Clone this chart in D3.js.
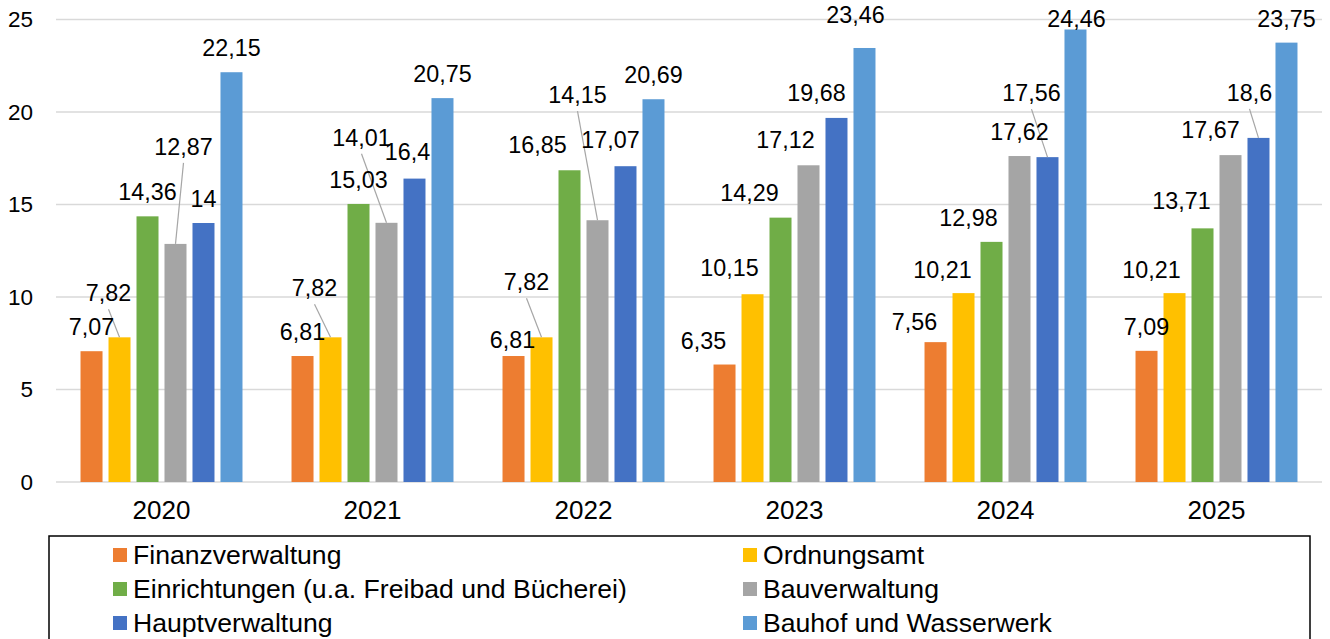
<!DOCTYPE html>
<html>
<head>
<meta charset="utf-8">
<script src="https://cdn.jsdelivr.net/npm/d3@7"></script>
<style>
    body { margin: 0; background: #fff; }
    text { font-family: "Liberation Sans", Arial, sans-serif; fill: #000; }
</style>
</head>
<body>
<svg width="1330" height="639"></svg>
<script>
var years = ['2020', '2021', '2022', '2023', '2024', '2025'];
var seriesNames = [
    'Finanzverwaltung'
,   'Ordnungsamt'
,   'Einrichtungen (u.a. Freibad und Bücherei)'
,   'Bauverwaltung'
,   'Hauptverwaltung'
,   'Bauhof und Wasserwerk'
];
var finanzverwaltung = [7.07, 6.81, 6.81, 6.35, 7.56, 7.09];
var ordnungsamt      = [7.82, 7.82, 7.82, 10.15, 10.21, 10.21];
var einrichtungen    = [14.36, 15.03, 16.85, 14.29, 12.98, 13.71];
var bauverwaltung    = [12.87, 14.01, 14.15, 17.12, 17.62, 17.67];
var hauptverwaltung  = [14, 16.4, 17.07, 19.68, 17.56, 18.6];
var bauhof           = [22.15, 20.75, 20.69, 23.46, 24.46, 23.75];
var yTicks = [0, 5, 10, 15, 20, 25];

var colors = ['#ED7D31', '#FFC000', '#70AD47', '#A5A5A5', '#4472C4', '#5B9BD5'];

// label nudges (year index - series index): [dx, dy, leader line]
var labelMoves = {
    '0-1': [-11, -44, true]
,   '0-3': [8, -97, true]
,   '1-1': [-16, -49, true]
,   '1-3': [-25, -85, true]
,   '1-4': [-7, -27]
,   '2-0': [-1, -16]
,   '2-1': [-15, -55, true]
,   '2-2': [-32, -25]
,   '2-3': [-20, -125, true]
,   '2-4': [-15, -26]
,   '3-0': [-21, -24]
,   '3-1': [-23, -26]
,   '3-2': [-31, -25]
,   '3-3': [-23, -25]
,   '3-4': [-20, -25]
,   '3-5': [-9, -33]
,   '4-0': [-21, -20]
,   '4-1': [-21, -23]
,   '4-2': [-23, -24]
,   '4-4': [-16, -64, true]
,   '4-5': [1, -10]
,   '5-1': [-23, -23]
,   '5-2': [-21, -27]
,   '5-3': [-20, -25]
,   '5-4': [-9, -45, true]
};

function fmt(v)
{
    return String(v).replace('.', ',');
}

function drawChart()
{
    var svg = d3.select('svg');
    var allSeries = [finanzverwaltung, ordnungsamt, einrichtungen, bauverwaltung, hauptverwaltung, bauhof];

    var y = d3.scaleLinear().domain([0, 25]).range([482, 19.5]);
    var x0 = d3.scaleBand().domain(years).range([56, 1322])
        .paddingInner(0.204).paddingOuter(0.102);
    var x1 = d3.scaleBand().domain(d3.range(seriesNames.length)).range([0, x0.bandwidth()])
        .paddingInner(0.214).paddingOuter(0.107);

    // gridlines
    svg.append('g').selectAll('line')
        .data(yTicks)
        .enter().append('line')
        .attr('x1', 56).attr('x2', 1322)
        .attr('y1', function(d) { return y(d); })
        .attr('y2', function(d) { return y(d); })
        .attr('stroke', '#d9d9d9')
        .attr('stroke-width', 1.5);

    // y axis labels
    var yAxis = d3.axisLeft(y).tickValues(yTicks).tickSize(0).tickPadding(0);
    var gy = svg.append('g').attr('transform', 'translate(33,0)').call(yAxis);
    gy.select('.domain').remove();
    gy.selectAll('text').attr('font-size', 22.5).attr('font-family', '"Liberation Sans", Arial, sans-serif')
        .attr('fill', '#000');

    // x axis labels
    var xAxis = d3.axisBottom(x0).tickSize(0).tickPadding(0);
    var gx = svg.append('g').attr('transform', 'translate(0,501)').call(xAxis);
    gx.select('.domain').remove();
    gx.selectAll('text').attr('font-size', 26).attr('font-family', '"Liberation Sans", Arial, sans-serif')
        .attr('fill', '#000');

    // bars
    var cells = [];
    years.forEach(function(yr, i)
    {
        allSeries.forEach(function(vals, j)
        {
            cells.push({ year: yr, i: i, s: j, value: vals[i] });
        });
    });

    svg.append('g').selectAll('rect')
        .data(cells)
        .enter().append('rect')
        .attr('x', function(d) { return x0(d.year) + x1(d.s); })
        .attr('y', function(d) { return y(d.value); })
        .attr('width', x1.bandwidth())
        .attr('height', function(d) { return y(0) - y(d.value); })
        .attr('fill', function(d) { return colors[d.s]; });

    // labels + leader lines
    cells.forEach(function(d)
    {
        var mv = labelMoves[d.i + '-' + d.s] || [0, -24];
        d.cx = x0(d.year) + x1(d.s) + x1.bandwidth() / 2;
        d.top = y(d.value);
        d.lx = d.cx + mv[0];
        d.ly = d.top + mv[1];
        d.leader = !!mv[2];
    });

    svg.append('g').selectAll('line')
        .data(cells.filter(function(d) { return d.leader; }))
        .enter().append('line')
        .attr('x1', function(d) { return d.lx; })
        .attr('y1', function(d) { return d.ly + 16; })
        .attr('x2', function(d) { return d.cx; })
        .attr('y2', function(d) { return d.top; })
        .attr('stroke', '#a6a6a6')
        .attr('stroke-width', 1.2);

    svg.append('g').selectAll('text')
        .data(cells)
        .enter().append('text')
        .attr('x', function(d) { return d.lx; })
        .attr('y', function(d) { return d.ly; })
        .attr('text-anchor', 'middle')
        .attr('dominant-baseline', 'central')
        .attr('font-size', 23.3)
        .text(function(d) { return fmt(d.value); });

    // legend
    svg.append('rect')
        .attr('x', 49).attr('y', 536)
        .attr('width', 1261).attr('height', 120)
        .attr('fill', 'none')
        .attr('stroke', '#000')
        .attr('stroke-width', 1.5);

    var leg = svg.append('g').selectAll('g')
        .data(seriesNames)
        .enter().append('g')
        .attr('transform', function(d, i)
        {
            var col = i % 2;
            var row = Math.floor(i / 2);
            return 'translate(' + (col === 0 ? 113 : 743) + ',' + (555 + row * 34) + ')';
        });

    leg.append('rect')
        .attr('x', 0).attr('y', -7)
        .attr('width', 14).attr('height', 14)
        .attr('fill', function(d, i) { return colors[i]; });

    leg.append('text')
        .attr('x', 20).attr('y', 0)
        .attr('dominant-baseline', 'central')
        .attr('font-size', 26.6)
        .text(function(d) { return d; });
}

drawChart();
</script>
</body>
</html>
